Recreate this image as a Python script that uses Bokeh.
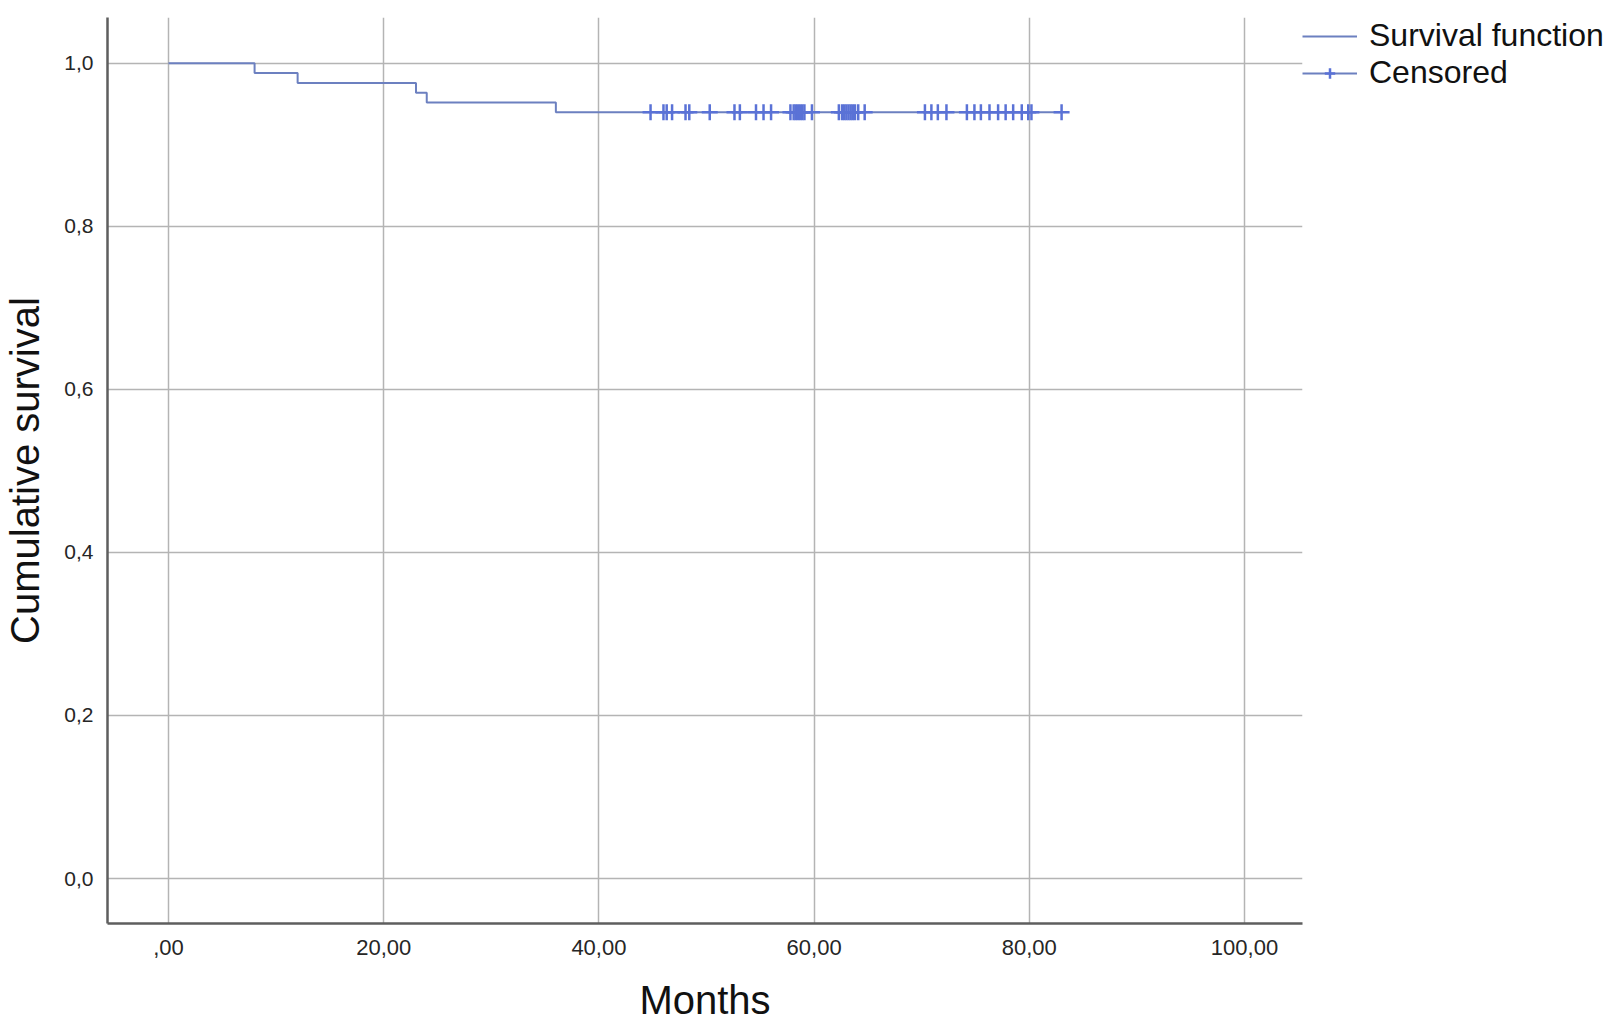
from bokeh.plotting import figure
from bokeh.models import FixedTicker, Range1d, Legend, LegendItem
from bokeh.embed import file_html
from bokeh.resources import INLINE

# ---- data ----
event_months = [0.0, 8.0, 12.0, 23.0, 24.0, 36.0]
survival = [1.0, 0.988, 0.976, 0.964, 0.952, 0.940]
followup_end = 83.0
censored_months = [
    44.8, 46.0, 46.3, 46.8, 48.05, 48.4, 50.3, 52.6, 53.1, 54.6, 55.3, 56.0,
    57.8, 58.1, 58.3, 58.5, 58.7, 58.9, 59.1, 59.8,
    62.3, 62.6, 62.8, 63.0, 63.2, 63.4, 63.6, 63.8, 64.1, 64.7,
    70.3, 70.9, 71.5, 72.3, 74.2, 74.9, 75.5, 76.3, 77.1, 77.8, 78.5, 79.3,
    79.9, 80.2, 83.0,
]
x_ticks = [0, 20, 40, 60, 80, 100]
x_tick_labels = [",00", "20,00", "40,00", "60,00", "80,00", "100,00"]
y_ticks = [0.0, 0.2, 0.4, 0.6, 0.8, 1.0]
y_tick_labels = ["0,0", "0,2", "0,4", "0,6", "0,8", "1,0"]

# step curve points
step_x = event_months + [followup_end]
step_y = survival + [survival[-1]]


def surv_at(t):
    s = survival[0]
    for tm, sv in zip(event_months, survival):
        if tm <= t:
            s = sv
    return s


cens_y = [surv_at(t) for t in censored_months]

LINE_COL = "#6c80c0"
MARK_COL = "#5a72d6"
FONT = "Liberation Sans"

p = figure(
    frame_width=1195, frame_height=906,
    x_range=Range1d(-5.67, 105.39), y_range=Range1d(-0.0552, 1.0562),
    output_backend="svg", toolbar_location=None,
    min_border_left=107, min_border_top=17, min_border_bottom=40,
    min_border_right=10,
    background_fill_color="white", border_fill_color="white",
)
p.outline_line_color = None

r_step = p.step(step_x, step_y, mode="after", line_color=LINE_COL, line_width=2)
r_cens = p.scatter(censored_months, cens_y, marker="cross", size=16,
                   line_color=MARK_COL, line_width=2.5)

# axes
for ax in (p.xaxis[0], p.yaxis[0]):
    ax.axis_line_color = "#5e5e5e"
    ax.axis_line_width = 2.5
    ax.major_tick_line_color = None
    ax.minor_tick_line_color = None
    ax.major_tick_out = 0
    ax.major_tick_in = 0
    ax.major_label_text_font = FONT
    ax.major_label_text_color = "#262626"
    ax.axis_label_text_font = FONT
    ax.axis_label_text_font_style = "normal"
    ax.axis_label_text_color = "#111111"

p.xaxis.ticker = FixedTicker(ticks=x_ticks)
p.xaxis.major_label_overrides = {t: l for t, l in zip(x_ticks, x_tick_labels)}
p.xaxis.major_label_text_font_size = "22px"
p.xaxis.major_label_standoff = 16
p.xaxis.axis_label = "Months"
p.xaxis.axis_label_text_font_size = "40px"
p.xaxis.axis_label_standoff = 20

p.yaxis.ticker = FixedTicker(ticks=y_ticks)
p.yaxis.major_label_overrides = {t: l for t, l in zip(y_ticks, y_tick_labels)}
p.yaxis.major_label_text_font_size = "21px"
p.yaxis.major_label_standoff = 14
p.yaxis.axis_label = "Cumulative survival"
p.yaxis.axis_label_text_font_size = "40px"
p.yaxis.axis_label_standoff = 14

# grid
p.xgrid.grid_line_color = "#b4b4b4"
p.ygrid.grid_line_color = "#b4b4b4"
p.xgrid.grid_line_width = 1.5
p.ygrid.grid_line_width = 1.5

# legend
legend = Legend(
    items=[
        LegendItem(label="Survival function", renderers=[r_step]),
        LegendItem(label="Censored", renderers=[r_step, r_cens]),
    ],
    location="top_left",
    label_text_font=FONT,
    label_text_font_size="32px",
    label_text_line_height=0.8,
    label_text_color="#111111",
    glyph_width=55, glyph_height=26, label_height=26,
    label_standoff=12, spacing=-4, padding=0, margin=0,
    border_line_color=None, background_fill_alpha=0,
)
p.add_layout(legend, "right")

open("out.html", "w").write(file_html(p, INLINE))
